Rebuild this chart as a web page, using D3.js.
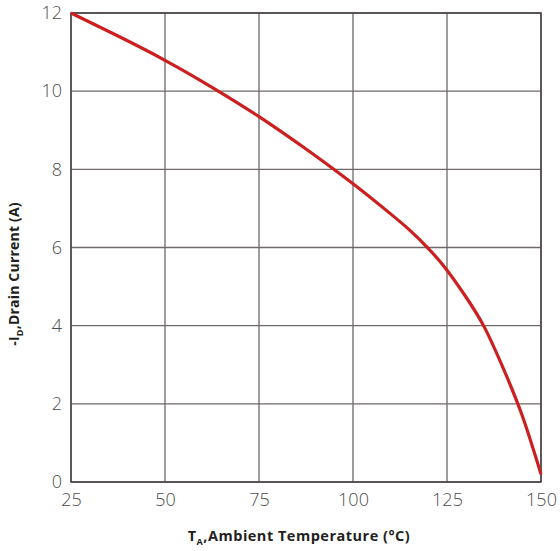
<!DOCTYPE html>
<html lang="en">
<head>
    <meta charset="UTF-8">
    <title>Drain Current vs Ambient Temperature</title>
    <style>
        body { margin: 0; background: #fff; }
        .tick text { font-family: "Open Sans", sans-serif; font-weight: 300; font-size: 18px; fill: #4d4d4d; }
        .title { font-family: "Open Sans", sans-serif; font-weight: 700; font-size: 14.5px; fill: #231f20; letter-spacing: 0.5px; }
    </style>
</head>
<body>
    <script src="https://d3js.org/d3.v7.min.js"></script>
    <script>
        // values
        const temps = [25, 37.5, 50, 62.5, 75, 87.5, 100, 110, 115, 120, 125, 130, 135, 140, 145, 150];
        const current = [12, 11.41, 10.79, 10.1, 9.35, 8.52, 7.63, 6.86, 6.45, 5.98, 5.42, 4.74, 3.95, 2.9, 1.7, 0.2];
        const xTicks = [25, 50, 75, 100, 125, 150];
        const yTicks = [0, 2, 4, 6, 8, 10, 12];

        const width = 560, height = 551;
        const mLeft = 71, mRight = 541, mTop = 13, mBottom = 482;

        const x = d3.scaleLinear().domain([25, 150]).range([mLeft, mRight]);
        const y = d3.scaleLinear().domain([0, 12]).range([mBottom, mTop]);

        const svg = d3.select("body")
            .append("svg")
            .attr("width", width)
            .attr("height", height);

        // grid
        svg.append("g")
            .selectAll("line")
            .data(xTicks)
            .join("line")
            .attr("x1", d => x(d)).attr("x2", d => x(d))
            .attr("y1", mTop).attr("y2", mBottom)
            .attr("stroke", "#6f6868")
            .attr("stroke-width", 1.3);

        svg.append("g")
            .selectAll("line")
            .data(yTicks)
            .join("line")
            .attr("x1", mLeft).attr("x2", mRight)
            .attr("y1", d => y(d)).attr("y2", d => y(d))
            .attr("stroke", "#6f6868")
            .attr("stroke-width", 1.3);

        // axes (labels only)
        const xAxis = svg.append("g")
            .attr("transform", `translate(0,${mBottom})`)
            .call(d3.axisBottom(x).tickValues(xTicks).tickSize(0).tickPadding(11));
        xAxis.select(".domain").remove();

        const yAxis = svg.append("g")
            .attr("transform", `translate(${mLeft},0)`)
            .call(d3.axisLeft(y).tickValues(yTicks).tickSize(0).tickPadding(9));
        yAxis.select(".domain").remove();

        // frame
        svg.append("rect")
            .attr("x", mLeft).attr("y", mTop)
            .attr("width", mRight - mLeft).attr("height", mBottom - mTop)
            .attr("fill", "none")
            .attr("stroke", "#4a4242")
            .attr("stroke-width", 1.5);

        // curve
        const line = d3.line()
            .x((d, i) => x(temps[i]))
            .y(d => y(d))
            .curve(d3.curveNatural);

        svg.append("path")
            .datum(current)
            .attr("d", line)
            .attr("fill", "none")
            .attr("stroke", "#cc1f1f")
            .attr("stroke-width", 3.2);

        // x title
        const xt = svg.append("text")
            .attr("class", "title")
            .attr("x", 299).attr("y", 541)
            .attr("text-anchor", "middle");
        xt.append("tspan").text("T");
        xt.append("tspan").attr("dy", 4).attr("font-size", 9).text("A");
        xt.append("tspan").attr("dy", -4).text(",Ambient Temperature (°C)");

        // y title
        const yt = svg.append("text")
            .attr("class", "title")
            .attr("transform", "translate(19,274) rotate(-90)")
            .attr("text-anchor", "middle")
            .style("font-size", "14px")
            .style("letter-spacing", "0.2px");
        yt.append("tspan").text("-I");
        yt.append("tspan").attr("dy", 4).attr("font-size", 9).text("D");
        yt.append("tspan").attr("dy", -4).text(",Drain Current (A)");
    </script>
</body>
</html>
